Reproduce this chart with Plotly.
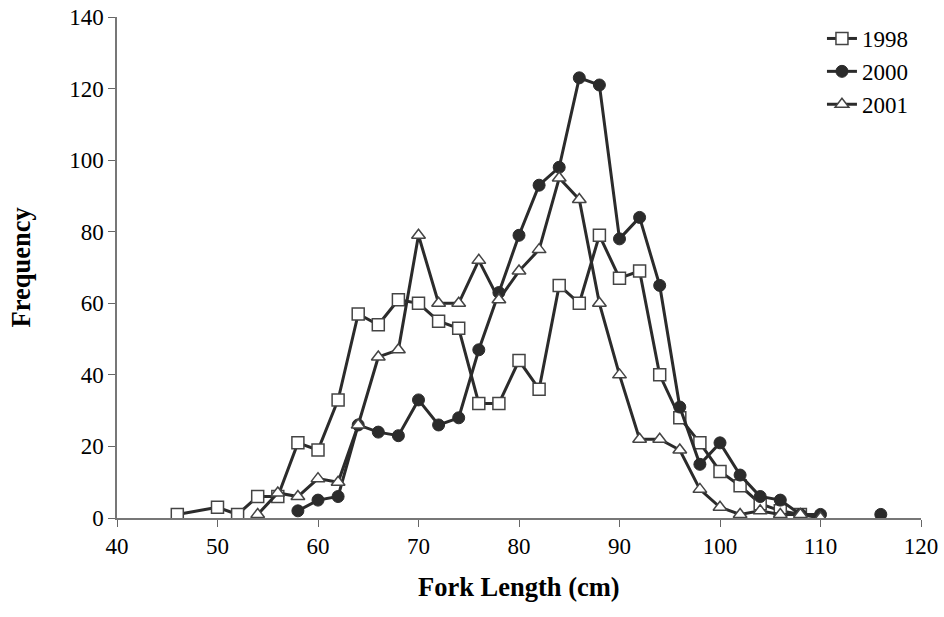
import plotly.graph_objects as go

# Fork length (cm) and frequencies per year
x_1998 = [46, 50, 52, 54, 56, 58, 60, 62, 64, 66, 68, 70, 72, 74, 76, 78, 80, 82, 84, 86, 88, 90, 92, 94, 96, 98, 100, 102, 104, 106, 108]
y_1998 = [1, 3, 1, 6, 6, 21, 19, 33, 57, 54, 61, 60, 55, 53, 32, 32, 44, 36, 65, 60, 79, 67, 69, 40, 28, 21, 13, 9, 4, 2, 1]

x_2000 = [58, 60, 62, 64, 66, 68, 70, 72, 74, 76, 78, 80, 82, 84, 86, 88, 90, 92, 94, 96, 98, 100, 102, 104, 106, 108, 110, 112, 114, 116]
y_2000 = [2, 5, 6, 26, 24, 23, 33, 26, 28, 47, 63, 79, 93, 98, 123, 121, 78, 84, 65, 31, 15, 21, 12, 6, 5, 1, 1, None, None, 1]

x_2001 = [54, 56, 58, 60, 62, 64, 66, 68, 70, 72, 74, 76, 78, 80, 82, 84, 86, 88, 90, 92, 94, 96, 98, 100, 102, 104, 106, 108, 110]
y_2001 = [1, 7, 6, 11, 10, 26, 45, 47, 79, 60, 60, 72, 61, 69, 75, 95, 89, 60, 40, 22, 22, 19, 8, 3, 1, 2, 1, 1, 0]

x_ticks = [40, 50, 60, 70, 80, 90, 100, 110, 120]
y_ticks = [0, 20, 40, 60, 80, 100, 120, 140]

LINE = "#2b2b2b"
FONT = "Liberation Serif, Times New Roman, serif"

fig = go.Figure()
fig.add_trace(go.Scatter(
    x=x_1998, y=y_1998, name="1998", mode="lines+markers",
    line=dict(color=LINE, width=3),
    marker=dict(symbol="square", size=12, color="white", line=dict(color="#444", width=1.5)),
))
fig.add_trace(go.Scatter(
    x=x_2000, y=y_2000, name="2000", mode="lines+markers", connectgaps=False,
    line=dict(color=LINE, width=3),
    marker=dict(symbol="circle", size=12, color=LINE, line=dict(color=LINE, width=1)),
))
fig.add_trace(go.Scatter(
    x=x_2001, y=y_2001, name="2001", mode="lines+markers",
    line=dict(color=LINE, width=3),
    marker=dict(symbol="triangle-up", size=12, color="white", line=dict(color="#444", width=1.5)),
))

fig.update_layout(
    width=944, height=617,
    margin=dict(l=117, r=23, t=17, b=99, autoexpand=False),
    paper_bgcolor="white", plot_bgcolor="white",
    font=dict(family=FONT, size=23, color="black"),
    showlegend=True,
    legend=dict(x=0.99, y=1.0, xanchor="right", yanchor="top",
                bgcolor="rgba(0,0,0,0)", font=dict(family=FONT, size=23),
                itemwidth=30, tracegroupgap=0),
    xaxis=dict(
        range=[40, 120], tickvals=x_ticks, ticks="outside", ticklen=7, tickcolor="#666",
        showline=True, linecolor="#777", linewidth=1.5, showgrid=False, zeroline=False,
        automargin=False, tickfont=dict(family=FONT, size=23),
    ),
    yaxis=dict(
        range=[0, 140], tickvals=y_ticks, ticks="outside", ticklen=7, tickcolor="#666",
        showline=True, linecolor="#777", linewidth=1.5, showgrid=False, zeroline=False,
        automargin=False, tickfont=dict(family=FONT, size=23),
    ),
    annotations=[
        dict(text="<b>Fork Length (cm)</b>", xref="paper", yref="paper",
             x=0.5, y=-0.1377, xanchor="center", yanchor="middle", showarrow=False,
             font=dict(family=FONT, size=26.5)),
        dict(text="<b>Frequency</b>", xref="paper", yref="paper",
             x=-0.1206, y=0.5, xanchor="center", yanchor="middle", showarrow=False,
             textangle=-90, font=dict(family=FONT, size=26.5)),
    ],
)

fig.write_html("out.html")
